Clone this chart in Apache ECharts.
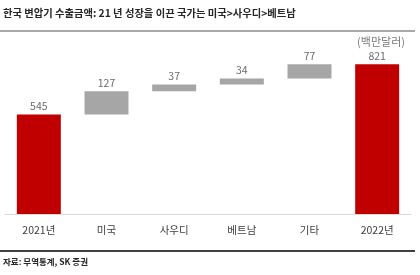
<!DOCTYPE html>
<html><head><meta charset="utf-8">
<script src="https://cdn.jsdelivr.net/npm/echarts@6/dist/echarts.min.js"></script>
<style>html,body{margin:0;padding:0;background:#fff}#c{width:420px;height:275px}</style>
</head><body><div id="c"></div>
<script>
const categories = ['2021년', '미국', '사우디', '베트남', '기타', '2022년'];
const values = [545, 127, 37, 34, 77, 821];
const isTotal = [true, false, false, false, false, true];
const titleText = '한국 변압기 수출금액: 21 년 성장을 이끈 국가는 미국>사우디>베트남';
const unitText = '(백만달러)';
const sourceText = '자료: 무역통계, SK 증권';

const base = [];
let run = 0;
values.forEach((v, i) => {
  if (isTotal[i]) { base.push(0); run = v; }
  else { base.push(run); run += v; }
});
const font = '"Noto Sans CJK KR", "Noto Sans", sans-serif';
const chart = echarts.init(document.getElementById('c'));
chart.setOption({
  animation: false,
  grid: { left: 5, right: 9, top: 31.5, bottom: 61 },
  xAxis: {
    type: 'category', data: categories,
    axisLine: { lineStyle: { color: '#d9d9d9', width: 1 } },
    axisTick: { show: false },
    axisLabel: { color: '#404040', fontSize: 10.5, fontFamily: font, margin: 11 }
  },
  yAxis: { type: 'value', min: 0, max: 1000, show: false, splitLine: { show: false } },
  series: [
    { type: 'bar', stack: 'w', data: base, itemStyle: { color: 'transparent' }, barWidth: '65%', silent: true },
    { type: 'bar', stack: 'w', barWidth: '65%',
      data: values.map((v, i) => ({ value: v, itemStyle: { color: isTotal[i] ? '#c00000' : '#a6a6a6' } })),
      label: { show: true, position: 'top', color: '#6b6b6b', fontSize: 10.5, fontFamily: font, distance: 3 } }
  ],
  graphic: [
    { type: 'text', left: 3, top: 8, style: { text: titleText, font: 'bold 10.3px ' + font, fill: '#262626' } },
    { type: 'line', shape: { x1: 0, y1: 31, x2: 415, y2: 31 }, style: { stroke: '#8c8c8c', lineWidth: 1.5 } },
    { type: 'text', right: 15, top: 36, style: { text: unitText, font: '11px ' + font, fill: '#7a7a7a' } },
    { type: 'line', shape: { x1: 0, y1: 251, x2: 415, y2: 251 }, style: { stroke: '#404040', lineWidth: 2 } },
    { type: 'text', left: 3, top: 258, style: { text: sourceText, font: 'bold 8.5px ' + font, fill: '#262626' } }
  ]
});
</script></body></html>
